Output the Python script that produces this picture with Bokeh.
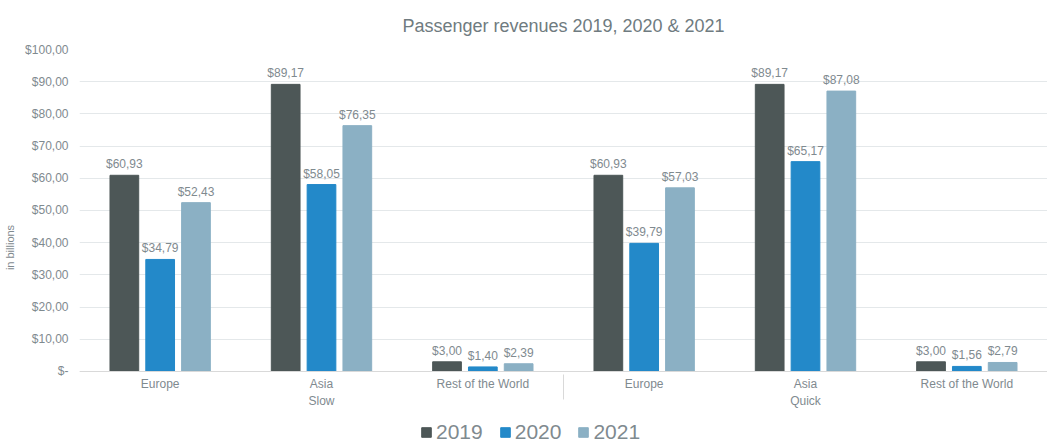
from bokeh.plotting import figure
from bokeh.models import FactorRange, ColumnDataSource, FixedTicker, Legend, LegendItem, Range1d
from bokeh.transform import dodge
from bokeh.embed import file_html
from bokeh.resources import INLINE
from bokeh.core.properties import value

# ---- data ----
groups = ["Slow", "Slow", "Slow", "Quick", "Quick", "Quick"]
regions = ["Europe", "Asia", "Rest of the World", "Europe", "Asia", "Rest of the World"]
years = ["2019", "2020", "2021"]
v2019 = [60.93, 89.17, 3.00, 60.93, 89.17, 3.00]
v2020 = [34.79, 58.05, 1.40, 39.79, 65.17, 1.56]
v2021 = [52.43, 76.35, 2.39, 57.03, 87.08, 2.79]
y_ticks = [0, 10, 20, 30, 40, 50, 60, 70, 80, 90, 100]
y_tick_labels = ["$-", "$10,00", "$20,00", "$30,00", "$40,00", "$50,00",
                 "$60,00", "$70,00", "$80,00", "$90,00", "$100,00"]
colors = ["#4d5757", "#2389c9", "#8bb0c4"]

FONT = "Liberation Sans"
GRAY = "#7f8a8f"

factors = list(zip(groups, regions))
series = [v2019, v2020, v2021]
offsets = [-0.222, 0.0, 0.222]

def fmt(v):
    return ("$%.2f" % v).replace(".", ",")

p = figure(
    x_range=FactorRange(*factors, range_padding=0, group_padding=0, factor_padding=0),
    y_range=Range1d(-23, 100),
    frame_width=968, frame_height=396,
    output_backend="svg", toolbar_location=None,
    title="Passenger revenues 2019, 2020 & 2021",
    min_border_left=79, min_border_right=0, min_border_top=0, min_border_bottom=0,
)

items = []
for yr, vals, col, off in zip(years, series, colors, offsets):
    src = ColumnDataSource(dict(x=factors, top=vals, label=[fmt(v) for v in vals]))
    r = p.vbar(x=dodge("x", off, range=p.x_range), top="top", bottom=0, width=0.178,
               source=src, fill_color=col, line_color=col)
    p.text(x=dodge("x", off, range=p.x_range), y="top", text="label", source=src,
           text_align="center", text_baseline="bottom", y_offset=-4,
           text_font=value(FONT), text_font_size="12px", text_color=GRAY)
    items.append(LegendItem(label=yr, renderers=[r]))

legend = Legend(items=items, orientation="horizontal", location=(341, 1),
                label_text_font=FONT, label_text_font_size="21px", label_text_color=GRAY,
                glyph_width=12, glyph_height=12, spacing=16, label_standoff=4,
                label_height=20, label_width=20, padding=0, margin=0,
                border_line_color=None, background_fill_alpha=0)
p.add_layout(legend)

p.title.align = "center"
p.title.text_font = FONT
p.title.text_font_size = "18px"
p.title.text_font_style = "normal"
p.title.text_color = "#6f7b80"
p.title.standoff = 27

p.yaxis.ticker = FixedTicker(ticks=y_ticks)
p.yaxis.major_label_overrides = {t: l for t, l in zip(y_ticks, y_tick_labels)}
p.yaxis.axis_line_color = None
p.yaxis.major_tick_line_color = None
p.yaxis.minor_tick_line_color = None
p.yaxis.major_label_text_font = FONT
p.yaxis.major_label_text_font_size = "12px"
p.yaxis.major_label_text_color = GRAY
p.yaxis.axis_label = "in billions"
p.yaxis.axis_label_text_font = FONT
p.yaxis.axis_label_text_font_size = "11px"
p.yaxis.axis_label_text_font_style = "normal"
p.yaxis.axis_label_text_color = GRAY
p.yaxis.axis_label_standoff = 6

p.xaxis.fixed_location = 0
p.xaxis.axis_line_color = "#d9d9d9"
p.xaxis.major_tick_line_color = None
p.xaxis.minor_tick_line_color = None
p.xaxis.major_label_standoff = 0
p.xaxis.major_label_text_font = FONT
p.xaxis.major_label_text_font_size = "12px"
p.xaxis.major_label_text_color = GRAY
p.xaxis.group_text_font = FONT
p.xaxis.group_text_font_size = "12px"
p.xaxis.group_text_font_style = "normal"
p.xaxis.group_text_color = GRAY
p.xaxis.separator_line_color = "#d9d9d9"
p.xaxis.separator_line_width = 1

p.xgrid.grid_line_color = None
p.ygrid.grid_line_color = "#e4e8ea"
p.outline_line_color = None

open("out.html", "w").write(file_html(p, INLINE))
